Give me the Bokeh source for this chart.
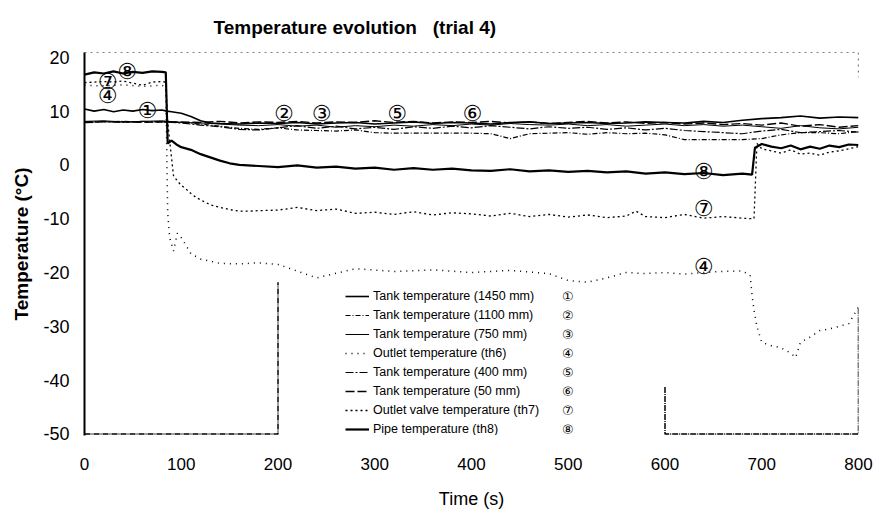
from bokeh.plotting import figure
from bokeh.models import Legend, LegendItem, FixedTicker, Range1d, ColumnDataSource
from bokeh.core.properties import value
from bokeh.embed import file_html
from bokeh.resources import INLINE

nan = float("nan")

# ---------------- data ----------------
title_text = "Temperature evolution\u00a0\u00a0\u00a0(trial 4)"
x_label = "Time (s)"
y_label = "Temperature (°C)"

x_ticks = [0, 100, 200, 300, 400, 500, 600, 700, 800]
x_tick_labels = ["0", "100", "200", "300", "400", "500", "600", "700", "800"]
y_ticks = [20, 10, 0, -10, -20, -30, -40, -50]
y_tick_labels = ["20", "10", "0", "-10", "-20", "-30", "-40", "-50"]

series_names = [
    "Tank temperature (1450 mm)",
    "Tank temperature (1100 mm)",
    "Tank temperature (750 mm)",
    "Outlet temperature (th6)",
    "Tank temperature (400 mm)",
    "Tank temperature (50 mm)",
    "Outlet valve temperature (th7)",
    "Pipe temperature (th8)",
]
series_marks = ["①", "②", "③", "④", "⑤", "⑥", "⑦", "⑧"]

grid20 = list(range(0, 81, 20)) + list(range(100, 801, 20))

# 1: Tank 1450 mm
t1 = [0, 10, 20, 30, 40, 50, 60, 70, 80, 85, 90, 100, 110, 120, 130, 140, 160, 180] + list(range(200, 801, 20))
v1 = [10.4, 10.0, 10.3, 9.9, 10.2, 10.0, 10.3, 10.1, 10.2, 10.0, 9.9, 9.6, 9.0, 8.2, 7.8, 7.7, 7.6, 7.8,
      7.7, 7.9, 7.6, 7.8, 7.9, 7.6, 7.8, 8.0, 7.7, 7.9, 7.8, 7.6, 7.9, 8.0, 7.7, 7.8,
      7.9, 7.7, 7.8, 8.0, 7.9, 7.8, 8.1, 7.9, 8.3, 8.6, 8.8, 9.1, 8.7, 8.9, 8.8]

# 2: Tank 1100 mm
t2 = grid20
v2 = [7.9, 8.0, 8.1, 8.0, 8.0,
      7.9, 7.6, 7.2, 6.8, 6.6, 6.9, 6.5, 6.4, 6.3, 6.5, 6.0, 5.9, 5.9, 5.9, 5.9, 5.9,
      5.8, 4.9, 5.8, 5.9, 6.0, 5.7, 6.0, 5.8, 5.9, 5.6, 4.7, 4.7, 4.7, 4.7, 4.9, 5.6,
      6.0, 6.0, 5.8, 6.2]

# 3: Tank 750 mm
t3 = grid20
v3 = [8.1, 8.2, 8.0, 8.1, 8.2,
      7.9, 7.8, 7.6, 7.4, 7.3, 7.5, 7.2, 7.4, 7.0, 7.3, 7.1, 7.4, 7.2, 7.5, 7.3, 7.6,
      7.4, 7.7, 7.5, 7.4, 7.6, 7.3, 7.5, 7.2, 7.4, 7.6, 7.3, 7.5, 7.2, 7.4, 7.1, 6.8,
      7.3, 6.9, 6.7, 7.0]

# 4: Outlet th6
t4 = [0, 20, 40, 60, 80, 84, 86, 88, 92, 96, 100, 106, 110, 120, 140, 160, 180, 200, 240, 280, 320,
      360, 400, 440, 480, 500, 520, 540, 560, 580, 600, 620, 640, 660, 680, 688, 690, 692, 695, 700,
      710, 720, 730, 735, 740, 750, 760, 770, 780, 790, 800]
v4 = [14.8, 14.7, 14.9, 14.6, 14.8, 14.5, -9.0, -13.5, -16.0, -12.7, -13.5, -15.3, -16.5, -17.5, -18.3,
      -18.4, -18.2, -18.5, -21.0, -19.3, -19.8, -19.5, -20.0, -19.6, -20.2, -21.5, -21.8, -21.0, -20.0,
      -20.2, -20.0, -20.3, -20.0, -19.8, -19.7, -20.5, -24.3, -27.0, -30.0, -33.0, -33.6, -34.0, -35.0,
      -35.8, -33.0, -32.0, -30.8, -30.5, -30.0, -29.5, -26.4]

# 5: Tank 400 mm
t5 = grid20
v5 = [8.0, 8.1, 7.9, 8.1, 8.0,
      7.8, 7.4, 7.1, 6.6, 6.5, 6.9, 7.3, 6.8, 7.2, 6.7, 7.0, 6.6, 7.1, 6.8, 7.2, 6.9,
      7.3, 7.0, 6.7, 7.1, 6.8, 7.0, 6.6, 6.9, 6.5, 6.8, 6.4, 6.2, 6.0, 5.8, 6.3, 6.6,
      6.0, 6.2, 6.4, 6.1]

# 6: Tank 50 mm
t6 = grid20
v6 = [7.9, 8.0, 8.0, 7.9, 8.0,
      8.0, 7.9, 8.1, 7.8, 8.0, 7.9, 8.1, 7.8, 8.0, 7.9, 8.2, 7.9, 8.1, 7.8, 8.0, 7.9,
      8.1, 7.8, 8.0, 7.7, 7.9, 8.1, 7.8, 8.0, 7.7, 7.9, 7.6, 7.8, 7.5, 7.7, 7.4, 7.8,
      7.2, 7.5, 7.0, 7.3]

# 7: Outlet valve th7
t7 = [0, 10, 20, 30, 40, 50, 60, 70, 80, 84, 86, 88, 92, 96, 100, 105, 110, 115, 120, 130, 140, 150,
      160, 170, 180, 200, 220, 240, 260, 280, 300, 320, 340, 360, 380, 400, 420, 440, 460, 480, 500,
      520, 540, 560, 570, 580, 600, 620, 640, 660, 680, 690, 692, 695, 700, 710, 720, 730, 740, 750,
      760, 770, 780, 790, 800]
v7 = [15.3, 15.4, 15.5, 15.4, 15.6, 15.2, 14.8, 15.4, 15.5, 15.4, 8.0, 4.5, -2.0, -3.0, -3.8, -4.5,
      -5.3, -6.0, -6.5, -7.4, -7.9, -8.3, -8.6, -8.6, -8.5, -8.4, -7.9, -8.5, -8.2, -9.0, -8.8, -9.2,
      -8.7, -9.3, -8.9, -9.1, -9.5, -9.0, -9.6, -9.2, -9.7, -9.3, -9.8, -9.5, -8.6, -9.6, -9.8, -9.2,
      -9.9, -9.6, -9.9, -10.0, -10.0, 4.0, 3.0, 2.6, 2.2, 2.8, 2.0, 2.2, 1.8, 2.4, 2.6, 3.0, 3.4]

# 8: Pipe th8
t8 = [0, 10, 20, 30, 40, 50, 60, 70, 80, 84, 86, 90, 95, 100, 110, 120, 130, 140, 150, 160, 180, 200,
      220, 240, 260, 280, 300, 320, 340, 360, 380, 400, 420, 440, 460, 480, 500, 520, 540, 560, 580,
      600, 620, 640, 660, 680, 690, 693, 700, 710, 720, 730, 740, 750, 760, 770, 780, 790, 800]
v8 = [16.8, 17.2, 17.0, 17.4, 17.0, 17.3, 17.1, 17.4, 17.3, 17.2, 4.0, 4.5, 3.8, 3.3, 2.8, 2.0, 1.4,
      0.8, 0.3, 0.0, -0.2, -0.4, -0.1, -0.5, -0.3, -0.7, -0.5, -0.9, -0.6, -0.9, -0.7, -1.0, -1.1,
      -0.8, -1.2, -1.0, -1.3, -1.1, -1.4, -1.2, -1.6, -1.4, -1.7, -1.5, -1.9, -1.6, -1.8, 3.2, 3.9,
      3.4, 3.1, 3.6, 2.9, 3.4, 3.0, 3.6, 3.3, 3.8, 3.7]

# off-scale traces along the plot edges
edge_top_t = [0, 800, 800]
edge_top_v = [20.9, 20.9, 16.3]
edge_bot_t = [0, 200, 200, nan, 600, 600, 800, 800]
edge_bot_v = [-50, -50, -21.8, nan, -41.3, -50, -50, -26.4]

# circled callouts placed on the curves (time, temperature)
callout_text = ["⑧", "⑦", "④", "①", "②", "③", "⑤", "⑥", "⑧", "⑦", "④"]
callout_t = [44, 24, 24, 65, 206, 245, 323, 401, 640, 640, 640]
callout_v = [17.3, 15.6, 12.9, 10.1, 9.6, 9.6, 9.6, 9.6, -1.2, -8.1, -18.9]

# ---------------- styles ----------------
styles = [
    dict(line_width=1.6, line_dash="solid"),
    dict(line_width=1.2, line_dash="5 2 1 2"),
    dict(line_width=1.0, line_dash="solid"),
    dict(line_width=1.5, line_dash="1 5"),
    dict(line_width=1.2, line_dash="8 2 2 2"),
    dict(line_width=1.4, line_dash="9 3"),
    dict(line_width=1.3, line_dash="2 3"),
    dict(line_width=2.2, line_dash="solid"),
]

FONT = "'Liberation Sans', Arial, sans-serif"

p = figure(width=880, height=515, x_range=Range1d(0, 800), y_range=Range1d(-50.3, 20.9),
           output_backend="svg", toolbar_location=None,
           min_border_left=84, min_border_right=22, min_border_top=52, min_border_bottom=80)
p.background_fill_color = "white"
p.border_fill_color = "white"
p.outline_line_color = None
p.xgrid.visible = False
p.ygrid.visible = False

p.title.text = title_text
p.title.align = "left"
p.title.offset = 129
p.title.vertical_align = "top"
p.title.standoff = 26
p.title.text_font = FONT
p.title.text_font_size = "19px"
p.title.text_font_style = "bold"
p.title.text_color = "black"

# axes
p.xaxis.ticker = FixedTicker(ticks=x_ticks)
p.xaxis.major_label_overrides = dict(zip(x_ticks, x_tick_labels))
p.yaxis.ticker = FixedTicker(ticks=y_ticks)
p.yaxis.major_label_overrides = dict(zip(y_ticks, y_tick_labels))
for ax in (p.xaxis[0], p.yaxis[0]):
    ax.major_tick_line_color = None
    ax.minor_tick_line_color = None
    ax.major_tick_out = 0
    ax.major_tick_in = 0
    ax.minor_tick_out = 0
    ax.minor_tick_in = 0
    ax.major_label_text_color = "black"
    ax.axis_label_text_color = "black"
p.xaxis.axis_line_color = None
p.yaxis.axis_line_color = "black"
p.yaxis.axis_line_width = 2
p.xaxis.major_label_text_font = FONT
p.xaxis.major_label_text_font_size = "17px"
p.xaxis.major_label_standoff = 22
p.xaxis.axis_label = x_label
p.xaxis.axis_label_text_font = FONT
p.xaxis.axis_label_text_font_size = "18px"
p.xaxis.axis_label_text_font_style = "normal"
p.xaxis.axis_label_standoff = 16
p.yaxis.major_label_text_font = FONT
p.yaxis.major_label_text_font_size = "18px"
p.yaxis.major_label_standoff = 15
p.yaxis.axis_label = y_label
p.yaxis.axis_label_text_font = FONT
p.yaxis.axis_label_text_font_size = "19px"
p.yaxis.axis_label_text_font_style = "bold"
p.yaxis.axis_label_standoff = 8

# edge traces
p.line(edge_top_t, edge_top_v, line_color="black", line_width=1.2, line_dash="2 4")
p.line(edge_bot_t, edge_bot_v, line_color="black", line_width=1.5, line_dash="6 1 1 1")

all_t = [t1, t2, t3, t4, t5, t6, t7, t8]
all_v = [v1, v2, v3, v4, v5, v6, v7, v8]
renderers = []
for t, v, st in zip(all_t, all_v, styles):
    r = p.line(t, v, line_color="black", **st)
    renderers.append(r)

src = ColumnDataSource(dict(x=callout_t, y=callout_v, text=callout_text))
p.text(x="x", y="y", text="text", source=src, text_align="center", text_baseline="middle",
       text_font=value("DejaVu Sans"), text_font_size="22px", text_color="black")

legend = Legend(items=[LegendItem(label=n, renderers=[r]) for n, r in zip(series_names, renderers)],
                location=(261, -2), padding=0, margin=0, spacing=3, label_height=16, glyph_height=16,
                glyph_width=24, label_standoff=4, border_line_color=None, background_fill_alpha=0,
                label_text_font=FONT, label_text_font_size="12.5px", label_text_color="black")
p.add_layout(legend)

legend2 = Legend(items=[LegendItem(label=m, renderers=[r]) for m, r in zip(series_marks, renderers)],
                 location=(478, -2), padding=0, margin=0, spacing=3, label_height=16, glyph_height=16,
                 glyph_width=0, label_standoff=0, border_line_color=None, background_fill_alpha=0,
                 label_text_font="DejaVu Sans", label_text_font_size="13px", label_text_color="black")
p.add_layout(legend2)

open("out.html", "w").write(file_html(p, INLINE))
